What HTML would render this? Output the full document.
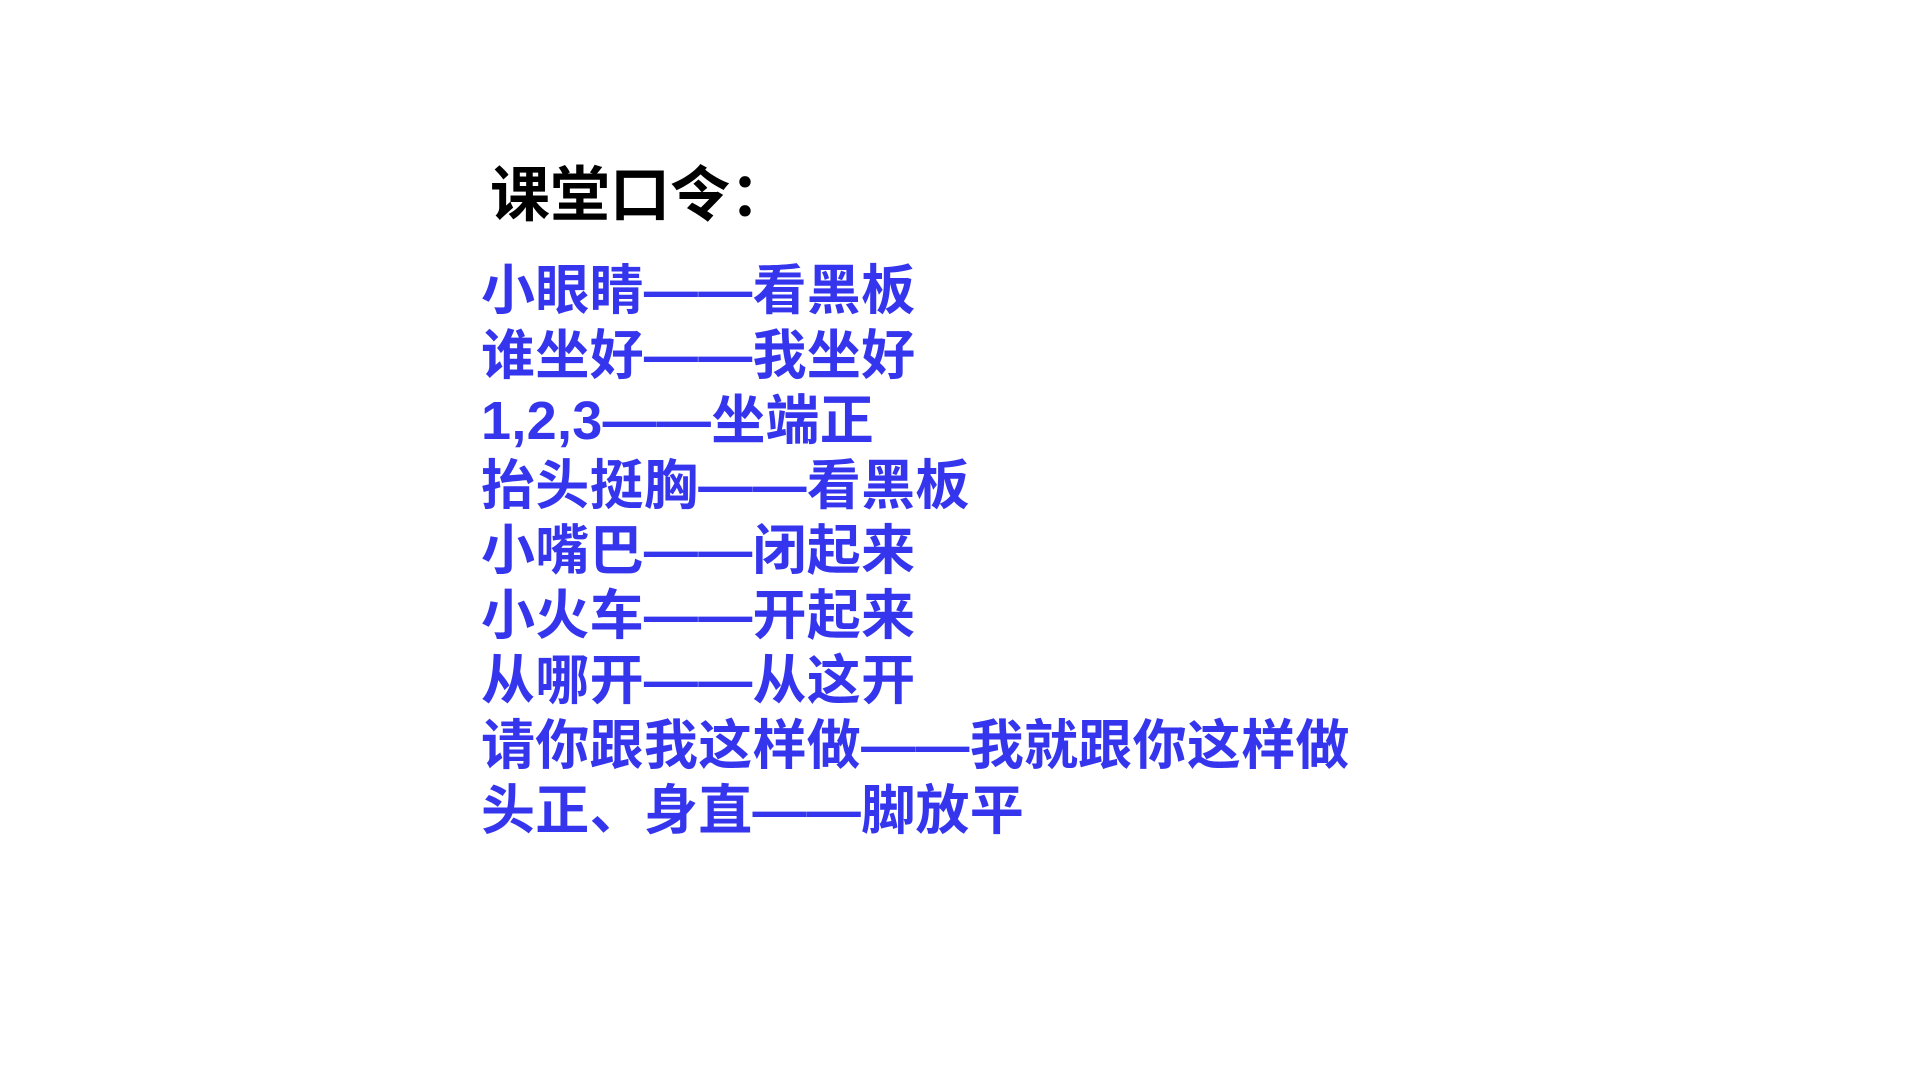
<!DOCTYPE html>
<html><head><meta charset="utf-8"><style>
html,body{margin:0;padding:0;background:#fff;width:1920px;height:1080px;overflow:hidden}
.t{position:absolute;left:490px;top:160px;font:bold 60px/72px "Liberation Sans","Noto Sans CJK SC",sans-serif;color:#000;white-space:nowrap}
.b{position:absolute;left:481px;top:259px;font:bold 54px/65px "Liberation Sans","Noto Sans CJK SC",sans-serif;letter-spacing:0.3px;color:#3535ee;white-space:nowrap}
</style></head><body>
<div class="t">课堂口令：</div>
<div class="b">小眼睛——看黑板<br>谁坐好——我坐好<br>1,2,3——坐端正<br>抬头挺胸——看黑板<br>小嘴巴——闭起来<br>小火车——开起来<br>从哪开——从这开<br>请你跟我这样做——我就跟你这样做<br>头正、身直——脚放平</div>
</body></html>
